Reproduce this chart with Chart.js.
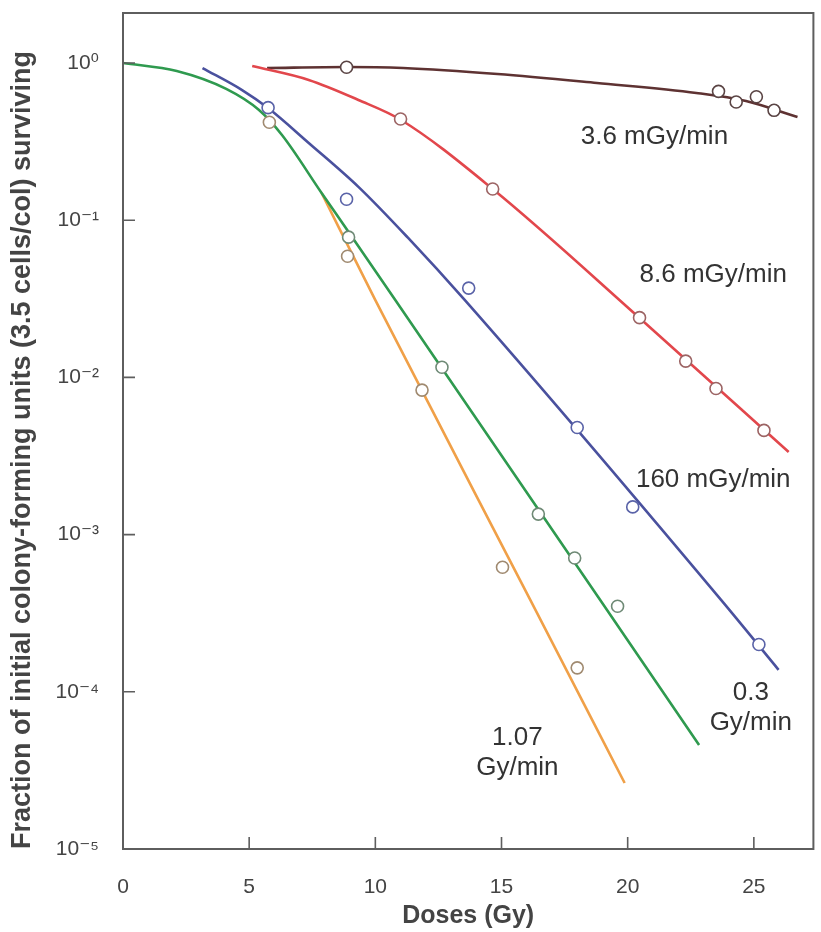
<!DOCTYPE html>
<html>
<head>
<meta charset="utf-8">
<script src="https://cdn.jsdelivr.net/npm/chart.js@4.4.1/dist/chart.umd.min.js"></script>
<style>
  html, body { margin: 0; padding: 0; background: #fff; }
  #wrap { width: 821px; height: 932px; position: relative; }
</style>
</head>
<body>
<div id="wrap"><canvas id="survival"></canvas></div>
<script>
// axis ticks
var xTicks = [0, 5, 10, 15, 20, 25];
var yTicks = [1e-5, 1e-4, 1e-3, 1e-2, 1e-1, 1];
var yTickLabels = ['10\u207B\u2075', '10\u207B\u2074', '10\u207B\u00B3', '10\u207B\u00B2', '10\u207B\u00B9', '10\u2070'];

// 1.07 Gy/min (orange)
var dose107 = [5.8, 8.9, 11.85, 15.04, 18.0];
var surv107 = [0.42, 0.059, 0.0083, 0.00062, 0.000142];
var fitDose107 = [7.87, 10.0, 16.14, 19.88];
var fitSurv107 = [0.149, 0.031, 0.000384, 0.0000263];

// 0.3 Gy/min (green)
var dose03 = [8.94, 12.64, 16.46, 17.9, 19.6];
var surv03 = [0.078, 0.0116, 0.00135, 0.00071, 0.00035];
var fitDose03 = [0, 2.13, 4.09, 5.39, 6.3, 7.87, 8.94, 10.79, 22.83];
var fitSurv03 = [1.0, 0.889, 0.684, 0.502, 0.348, 0.149, 0.0841, 0.0311, 0.0000459];

// 160 mGy/min (blue)
var dose160 = [5.75, 8.86, 13.7, 18.0, 20.2, 25.2];
var surv160 = [0.52, 0.136, 0.037, 0.0048, 0.0015, 0.0002];
var fitDose160 = [3.15, 4.72, 5.75, 7.36, 9.33, 11.3, 13.54, 23.7, 25.98];
var fitSurv160 = [0.929, 0.673, 0.517, 0.31, 0.163, 0.0771, 0.0311, 0.000384, 0.000138];

// 8.6 mGy/min (red)
var dose86 = [11.0, 14.65, 20.47, 22.3, 23.5, 25.4];
var surv86 = [0.44, 0.158, 0.024, 0.0127, 0.0085, 0.0046];
var fitDose86 = [5.12, 7.36, 9.33, 11.02, 14.65, 20.47, 26.38];
var fitSurv86 = [0.957, 0.78, 0.582, 0.434, 0.158, 0.0239, 0.00335];

// 3.6 mGy/min (brown)
var dose36 = [8.86, 23.6, 24.3, 25.1, 25.8];
var surv36 = [0.94, 0.66, 0.565, 0.61, 0.50];
var fitDose36 = [5.71, 8.86, 11.1, 14.84, 18.78, 22.72, 24.69, 26.73];
var fitSurv36 = [0.929, 0.943, 0.929, 0.851, 0.746, 0.645, 0.573, 0.453];

// curve labels, placed in data units
var curveLabels = [
  {text: ['3.6 mGy/min'], x: 21.06, y: 0.338},
  {text: ['8.6 mGy/min'], x: 23.39, y: 0.0448},
  {text: ['160 mGy/min'], x: 23.39, y: 0.00222},
  {text: ['0.3', 'Gy/min'], x: 24.88, y: 0.000098},
  {text: ['1.07', 'Gy/min'], x: 15.63, y: 0.0000508}
];

var FONT = '"Liberation Sans", Arial, Helvetica, "DejaVu Sans", sans-serif';

function pairs(xs, ys){
  return xs.map(function(v, i){ return {x: v, y: ys[i]}; });
}

function marks(data, edge){
  return {
    data: data, showLine: false,
    pointRadius: 6, pointBorderWidth: 1.6,
    pointBackgroundColor: '#fff', pointBorderColor: edge
  };
}

function curve(data, color){
  return {
    data: data, borderColor: color, borderWidth: 2.6,
    pointRadius: 0, cubicInterpolationMode: 'monotone', fill: false
  };
}

var framePlugin = {
  id: 'frame',
  afterDraw: function(chart){
    var ctx = chart.ctx, a = chart.chartArea;
    var xs = chart.scales.x, ys = chart.scales.y;
    ctx.save();
    ctx.strokeStyle = '#5e5e5e';
    ctx.lineWidth = 2;
    ctx.strokeRect(a.left, a.top, a.right - a.left, a.bottom - a.top);
    ctx.lineWidth = 1.6;
    ctx.beginPath();
    xTicks.slice(1).forEach(function(v){
      var px = xs.getPixelForValue(v);
      ctx.moveTo(px, a.bottom); ctx.lineTo(px, a.bottom - 12);
    });
    yTicks.slice(1).forEach(function(v){
      var py = ys.getPixelForValue(v);
      ctx.moveTo(a.left, py); ctx.lineTo(a.left + 12, py);
    });
    ctx.stroke();

    ctx.fillStyle = '#333';
    ctx.font = '26px ' + FONT;
    ctx.textAlign = 'center';
    ctx.textBaseline = 'middle';
    curveLabels.forEach(function(l){
      var px = xs.getPixelForValue(l.x), py = ys.getPixelForValue(l.y);
      l.text.forEach(function(t, i){ ctx.fillText(t, px, py + i * 30); });
    });
    ctx.restore();
  }
};

var ctx = document.getElementById('survival');
var chart = new Chart(ctx, {
  type: 'line',
  data: {
    datasets: [
      marks(pairs(dose107, surv107), '#a08a70'),
      marks(pairs(dose03, surv03), '#6f8a76'),
      marks(pairs(dose160, surv160), '#5a63a8'),
      marks(pairs(dose86, surv86), '#9c6464'),
      marks(pairs(dose36, surv36), '#5a4444'),
      curve(pairs(fitDose03, fitSurv03), '#2f9a4f'),
      curve(pairs(fitDose107, fitSurv107), '#f0a048'),
      curve(pairs(fitDose160, fitSurv160), '#4a519e'),
      curve(pairs(fitDose86, fitSurv86), '#e2474c'),
      curve(pairs(fitDose36, fitSurv36), '#5e3232')
    ]
  },
  options: {
    responsive: true,
    maintainAspectRatio: false,
    animation: false,
    layout: { padding: { top: 13, right: -5, left: 0, bottom: 0 } },
    plugins: { legend: { display: false }, tooltip: { enabled: false } },
    scales: {
      x: {
        type: 'linear', min: 0, max: 27.36,
        grid: { display: false }, border: { display: false },
        afterBuildTicks: function(axis){ axis.ticks = xTicks.map(function(v){ return {value: v}; }); },
        afterFit: function(scale){ scale.height = 83; scale.paddingLeft = 0; scale.paddingRight = 0; },
        ticks: { color: '#444', font: { family: FONT, size: 21 }, padding: 18, maxRotation: 0 },
        title: { display: true, text: 'Doses (Gy)', color: '#444',
                 font: { family: FONT, size: 25, weight: 'bold' }, padding: { top: 0, bottom: 1 } }
      },
      y: {
        type: 'logarithmic', min: 1e-5, max: 2.08,
        grid: { display: false }, border: { display: false },
        afterBuildTicks: function(axis){ axis.ticks = yTicks.map(function(v){ return {value: v}; }); },
        afterFit: function(scale){ scale.width = 123; scale.paddingTop = 0; scale.paddingBottom = 0; },
        ticks: {
          color: '#444', font: { family: FONT, size: 21 }, padding: 16,
          callback: function(value, index){ return yTickLabels[index]; }
        },
        title: { display: true, align: 'start',
                 text: 'Fraction of initial colony-forming units (3.5 cells/col) surviving',
                 color: '#444', font: { family: FONT, size: 27, weight: 'bold' }, padding: { top: 6, bottom: 0 } }
      }
    }
  },
  plugins: [framePlugin]
});
</script>
</body>
</html>
